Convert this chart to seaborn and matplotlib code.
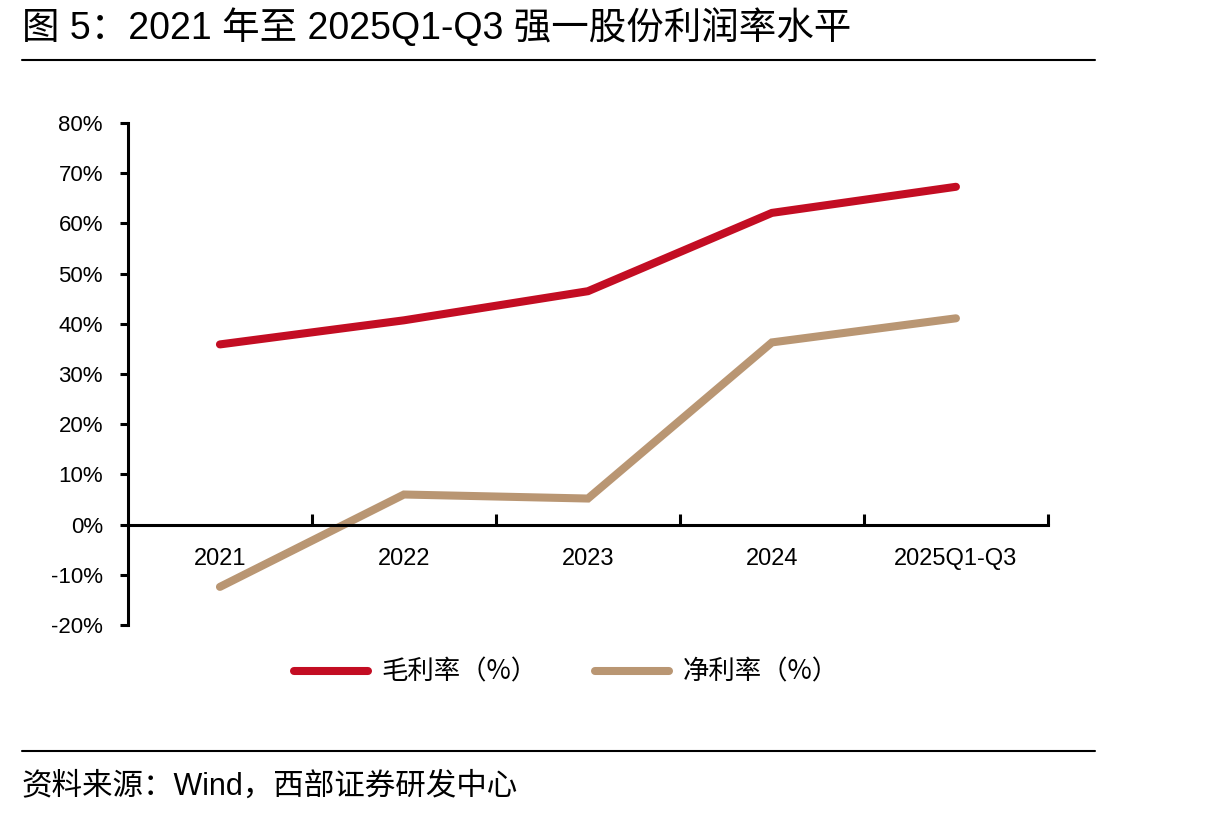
import numpy as np
import pandas as pd
import matplotlib
matplotlib.use("Agg")
import matplotlib.pyplot as plt
from matplotlib.lines import Line2D
import seaborn as sns

# 数据（%）
years = ["2021", "2022", "2023", "2024", "2025Q1-Q3"]
gross_margin = [35.9, 40.7, 46.5, 62.1, 67.3]
net_margin = [-12.4, 6.0, 5.2, 36.3, 41.1]
series_names = ["毛利率（%）", "净利率（%）"]
colors = ["#C30D23", "#B99673"]

sns.set_style("white")
plt.rcParams["font.family"] = ["Liberation Sans", "Noto Sans CJK SC", "DejaVu Sans"]
plt.rcParams["axes.unicode_minus"] = False
plt.rcParams["text.color"] = "black"
plt.rcParams["xtick.color"] = "black"
plt.rcParams["ytick.color"] = "black"

df = pd.DataFrame({
    "年份": years * 2,
    "值": gross_margin + net_margin,
    "指标": [series_names[0]] * len(years) + [series_names[1]] * len(years),
})
df["x"] = df["年份"].map({y: i for i, y in enumerate(years)})

fig = plt.figure(figsize=(12.15, 8.18), dpi=100)
ax = fig.add_axes([0.1053, 0.2359, 0.7572, 0.6137])

sns.lineplot(data=df, x="x", y="值", hue="指标", palette=colors,
             linewidth=5.8, ax=ax, legend=False)
for ln in ax.lines:
    ln.set_solid_capstyle("round")
    ln.set_solid_joinstyle("miter")

ax.set_xlim(-0.5, len(years) - 0.5)
ax.set_ylim(-20, 80)
ax.set_xlabel("")
ax.set_ylabel("")

# 坐标轴样式
for s in ["top", "right"]:
    ax.spines[s].set_visible(False)
ax.spines["bottom"].set_position(("data", 0))
for s in ["left", "bottom"]:
    ax.spines[s].set_linewidth(2.2)
    ax.spines[s].set_color("black")

ax.set_yticks(np.arange(-20, 81, 10))
ax.set_yticklabels([f"{v}%" for v in range(-20, 81, 10)])
ax.tick_params(axis="y", left=True, direction="out", length=6, width=2.2,
               labelsize=16, pad=12, colors="black")

ax.set_xticks(range(len(years)))
ax.set_xticklabels(years)
ax.set_xticks(np.arange(0.5, len(years), 1), minor=True)
ax.tick_params(axis="x", which="major", bottom=True, length=0, labelsize=17,
               pad=17, colors="black")
ax.tick_params(axis="x", which="minor", bottom=True, direction="in", length=8,
               width=2.2, colors="black")

# 图例
handles = [Line2D([0], [0], color=c, lw=5.8, solid_capstyle="round") for c in colors]
fig.legend(handles, series_names, loc="center", bbox_to_anchor=(0.466, 0.178),
           ncol=2, frameon=False, handlelength=2.8, columnspacing=2.2,
           handletextpad=0.5, prop={"family": ["Noto Sans CJK SC"], "size": 19})

# 标题与来源
fig.text(0.018, 0.966, "图 5：2021 年至 2025Q1-Q3 强一股份利润率水平", fontsize=27,
         va="center", ha="left")
fig.add_artist(Line2D([0.018, 0.901], [0.927, 0.927], color="black", lw=1.5))
fig.add_artist(Line2D([0.018, 0.901], [0.082, 0.082], color="black", lw=1.5))
fig.text(0.018, 0.038, "资料来源：Wind，西部证券研发中心", fontsize=22,
         va="center", ha="left")

fig.savefig("out.png", dpi=100, facecolor="white")
